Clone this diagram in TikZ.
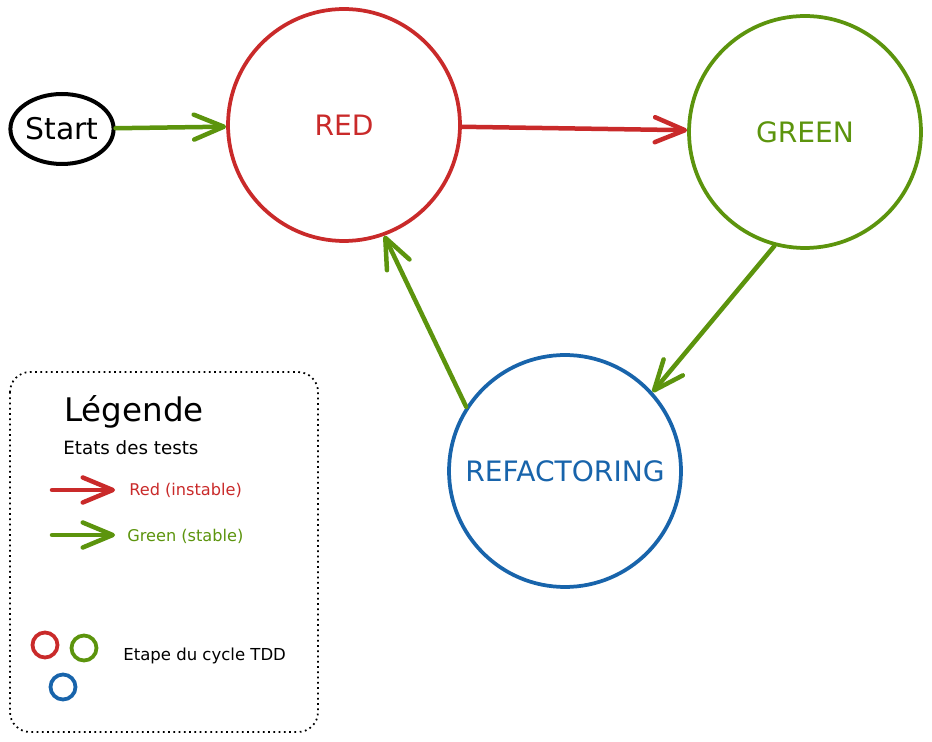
\documentclass[tikz,border=0pt]{standalone}
\usepackage{fontspec}
\setmainfont{DejaVu Sans}
\usetikzlibrary{arrows.meta,shapes.geometric}
\definecolor{tddred}{HTML}{C92A2A}
\definecolor{tddgreen}{HTML}{5C940D}
\definecolor{tddblue}{HTML}{1864AB}

\begin{document}
\begin{tikzpicture}[x=0.02cm,y=-0.02cm,>={Straight Barb[length=0.6cm,width=0.5cm,round]},
  phase/.style={circle,draw,line width=0.075cm,minimum size=4.64cm,inner sep=0pt,font=\fontsize{16}{18}\selectfont},
  flow/.style={->,line width=0.09cm,line cap=round},
  dot/.style={circle,draw,line width=0.075cm,minimum size=0.5cm,inner sep=0pt},
  small/.style={anchor=west,inner sep=0pt,font=\fontsize{9.2}{11}\selectfont}]
  \useasboundingbox (0,0) rectangle (932,742);
  \node[ellipse,draw,line width=0.08cm,minimum width=2.04cm,minimum height=1.4cm,inner sep=0pt,font=\fontsize{17}{19}\selectfont] (S) at (62,129) {Start};
  \node[phase,tddred]   (R) at (344,125) {RED};
  \node[phase,tddgreen] (G) at (805,132) {GREEN};
  \node[phase,tddblue]  (F) at (565,471) {REFACTORING};
  \draw[flow,tddgreen] (S) -- (R);
  \draw[flow,tddred] (R) -- (G);
  \draw[flow,tddgreen] (G.255) -- (F.42);
  \draw[flow,tddgreen] (F.147) -- (R.290);

  \draw[dotted,line width=0.035cm,rounded corners=0.4cm] (10,372) rectangle (318,732);
  \node[anchor=west,inner sep=0pt,font=\fontsize{18.5}{21}\selectfont] (L) at (64,412) {Légende};
  \node[small,font=\fontsize{10.4}{12}\selectfont] (E) at (63,448) {Etats des tests};
  \coordinate (r1) at (52,490);
  \coordinate (r2) at (115,490);
  \coordinate (g1) at (52,535);
  \coordinate (g2) at (115,535);
  \node[small,tddred] (lr) at (129,490) {Red (instable)};
  \node[small,tddgreen] (lg) at (127,536) {Green (stable)};
  \draw[flow,tddred] (r1) -- (r2);
  \draw[flow,tddgreen] (g1) -- (g2);
  \node[dot,tddred] (d1) at (45,645) {};
  \node[dot,tddgreen] (d2) at (84,648) {};
  \node[dot,tddblue] (d3) at (63,687) {};
  \node[small,font=\fontsize{9.4}{11}\selectfont] (T) at (123,656) {Etape du cycle TDD};
\end{tikzpicture}
\end{document}
